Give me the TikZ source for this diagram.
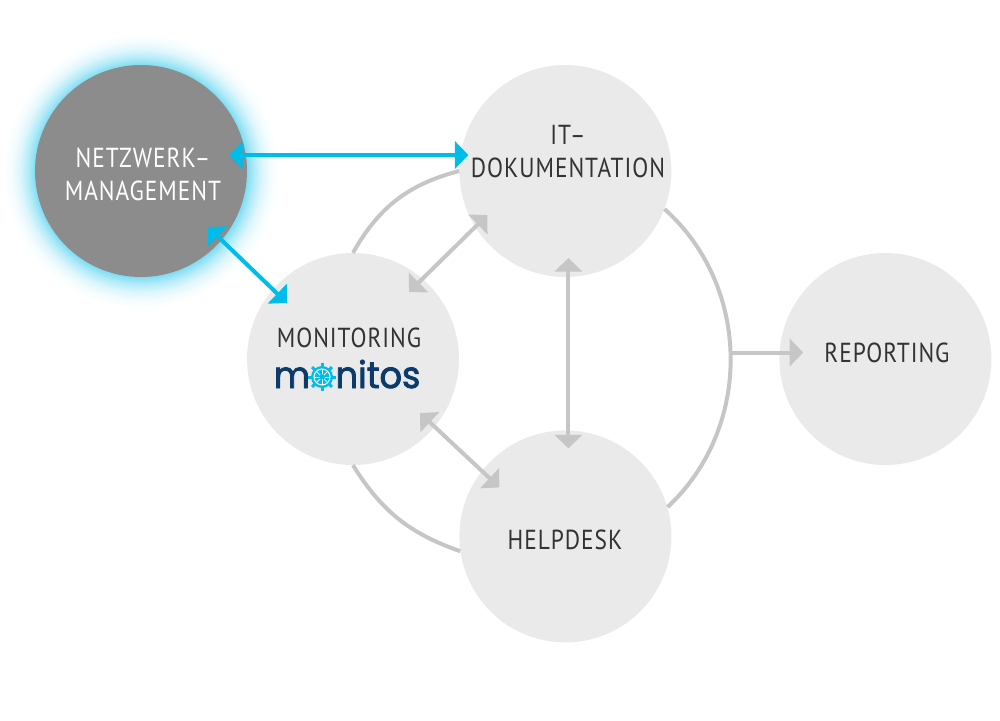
\documentclass[tikz,border=0pt]{standalone}
\usepackage{xcolor}
\usepackage{fontspec}
\usetikzlibrary{arrows.meta,positioning}
\setmainfont{PT Sans}[LetterSpace=3.5,FakeStretch=0.85]
\newfontfamily\logofont{Poppins}[FakeBold=2.2,FakeStretch=0.95]
\definecolor{circlegray}{HTML}{EAEAEA}
\definecolor{darkgray}{HTML}{8C8C8C}
\definecolor{linegray}{HTML}{C6C6C6}
\definecolor{textgray}{HTML}{333333}
\definecolor{glowblue}{HTML}{00BCE8}
\definecolor{logoblue}{HTML}{0B3A6B}
\pgfdeclareradialshading{glowshade}{\pgfpointorigin}{
  color(0bp)=(glowblue!50); color(19.2bp)=(glowblue!50);
  color(20.5bp)=(glowblue!30); color(22bp)=(glowblue!13); color(23.5bp)=(glowblue!4); color(25bp)=(white); color(50bp)=(white)}

\begin{document}
\begin{tikzpicture}[
  x=1pt, y=-1pt,
  font=\fontsize{27.5}{33}\selectfont,
  area/.style={circle, fill=circlegray, minimum size=212pt, inner sep=0pt},
  active/.style={area, fill=darkgray},
  glow/.style={circle, minimum size=276pt, inner sep=0pt, shading=glowshade},
  caption/.style={text=textgray, inner sep=0pt, align=center},
  logo/.style={text=logoblue, inner sep=0pt, anchor=base, font=\logofont\fontsize{37}{37}\selectfont},
  ring/.style={linegray, line width=4pt},
  link/.style={{Triangle[length=13.5pt,width=27pt]}-{Triangle[length=13.5pt,width=27pt]}, linegray, line width=4pt},
  linkout/.style={-{Triangle[length=13.5pt,width=27pt]}, linegray, line width=4pt},
  hot/.style={{Triangle[length=13.5pt,width=27pt]}-{Triangle[length=13.5pt,width=27pt]}, glowblue, line width=4pt}
]
\useasboundingbox (0,0) rectangle (1000,720);

\node[glow] (halo) at (141,171) {};
\node[active] (netz) at (141,171) {};
\node[area, right=212pt of netz] (doku) {};
\node[area] (moni) at (353,359) {};
\node[area, below=153pt of doku] (help) {};
\node[area, right=320pt of moni] (report) {};

\node[caption, text=white] (netztext) at (143,174) {NETZWERK–\\MANAGEMENT};
\node[caption] (dokutext) at (568,152) {IT–\\DOKUMENTATION};
\node[caption] (monitext) at (349,338) {MONITORING};
\node[caption] (helptext) at (565,540) {HELPDESK};
\node[caption] (reporttext) at (887,353) {REPORTING};

% logo
\node[circle, fill=glowblue, minimum size=22pt, inner sep=0pt] (wheel) at (322,377) {};
\node[logo] (logoa) at (292,388) {m};
\node[logo] (logob) at (378,388) {nitos};
\foreach \a in {0,45,...,315} {
  \draw[glowblue, line width=3pt] (wheel.center) -- ++(\a:14);
  \draw[white, line width=1pt] (wheel.center) -- ++(\a:8);
}
\draw[white, line width=1pt] (wheel.center) circle (8);
\fill[glowblue] (wheel.center) circle (2.5);

% rings
\draw[ring] (moni.90) to[bend left=23] (doku.180);
\draw[ring] (moni.270) to[bend right=19.5] (help.188);
\draw[ring] (doku.-21) to[bend left=47.6] coordinate[pos=0.485] (ringmid) (help.16);

% links
\draw[hot] ([shift={(88,-16)}]netz.center) -- ([shift={(-97,-16)}]doku.center);
\draw[hot] ([shift={(67,56)}]netz.center) -- ([shift={(-66,-56)}]moni.center);
\draw[link] ([shift={(56,-67)}]moni.center) -- ([shift={(-78,44)}]doku.center);
\draw[link] ([shift={(67,54)}]moni.center) -- ([shift={(-66,-49)}]help.center);
\draw[link] ([shift={(3,87)}]doku.center) -- ([shift={(3,-88)}]help.center);
\draw[linkout] (ringmid) -- ([xshift=24pt]report.west |- ringmid);

\end{tikzpicture}
\end{document}
